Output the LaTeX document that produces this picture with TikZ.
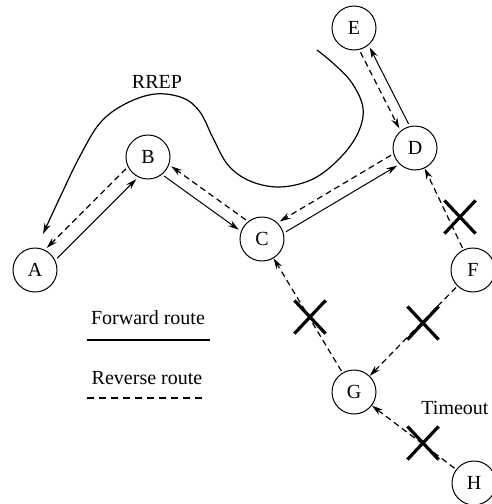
\documentclass[tikz,border=0pt]{standalone}
\usepackage{fontspec}
\setmainfont{Liberation Serif}
\usetikzlibrary{calc,arrows.meta,shapes.misc}

\tikzset{
  host/.style={draw, circle, line width=0.5pt, minimum size=22pt, inner sep=0pt, font=\fontsize{10}{12}\selectfont},
  fwd/.style={line width=0.5pt, -{Stealth[length=5.5pt,width=3.2pt]}},
  rev/.style={line width=0.6pt, dash pattern=on 3pt off 2pt, -{Stealth[length=5.5pt,width=3.2pt]}},
  brk/.style={cross out, draw, line width=1.6pt, minimum width=14pt, minimum height=15pt, inner sep=0pt},
  lbl/.style={font=\fontsize{10}{12}\selectfont},
}

% forward hop #2 -> #3 on the right, reverse hop #3 -> #2 on the left;
% #1 is the angle that sets the spacing of the two lines
\newcommand{\hoppair}[3][13]{%
  \draw[fwd] ($(#2)!12.5pt!-#1:(#3)$) -- ($(#3)!12.5pt!#1:(#2)$);
  \draw[rev] ($(#3)!12.5pt!-#1:(#2)$) -- ($(#2)!12.5pt!#1:(#3)$);
}

\begin{document}
\begin{tikzpicture}[x=0.5pt, y=-0.5pt]
  \useasboundingbox (0,0) rectangle (492,504);

  % mobile hosts
  \node[host] (A) at (35,270) {A};
  \node[host] (B) at (148,157) {B};
  \node[host] (C) at (262,239) {C};
  \node[host] (D) at (415,148) {D};
  \node[host] (E) at (354,28) {E};
  \node[host] (F) at (473,270) {F};
  \node[host] (G) at (354,392) {G};
  \node[host] (H) at (474,483) {H};

  % established route with its reverse path
  \hoppair[17]{A}{B}
  \hoppair[14]{B}{C}
  \hoppair[14]{C}{D}
  \hoppair[12]{D}{E}

  % reverse paths that time out
  \draw[rev, shorten <=1pt] (F) -- (D);
  \draw[rev, shorten <=1pt] (F) -- (G);
  \draw[rev, shorten <=1pt] (G) -- (C);
  \draw[rev, shorten <=1pt] (H) -- (G);

  \node[brk] (xdf) at (460,217) {};
  \node[brk] (xfg) at (423,323) {};
  \node[brk] (xcg) at (310,317) {};
  \node[brk] (xhg) at (423,443) {};

  \node[lbl] (timeout) at (455,408) {Timeout};

  % route reply travelling back to the source
  \coordinate (rrepstart) at (317,50);
  \coordinate (rrepend) at (43,234);
  \draw[line width=0.6pt, -{Stealth[length=5.5pt,width=3.2pt]}]
    plot[smooth, tension=0.6] coordinates {
      (rrepstart) (334,64) (352,83) (363,108) (358,133) (340,158)
      (313,179) (280,187) (250,181) (228,165) (213,138) (200,112)
      (183,98) (155,94) (125,104) (100,123) (80,156) (62,193) (rrepend)};
  \node[lbl] (rrep) at (157,82) {RREP};

  % legend
  \node[lbl] (fwdlabel) at (148,318) {Forward route};
  \coordinate (fwdl) at (87,340);
  \coordinate (fwdr) at (210,340);
  \draw[line width=0.6pt] (fwdl) -- (fwdr);
  \node[lbl] (revlabel) at (147,378) {Reverse route};
  \coordinate (revl) at (87,398);
  \coordinate (revr) at (206,398);
  \draw[line width=0.6pt, dash pattern=on 3.5pt off 2.5pt] (revl) -- (revr);
\end{tikzpicture}
\end{document}
